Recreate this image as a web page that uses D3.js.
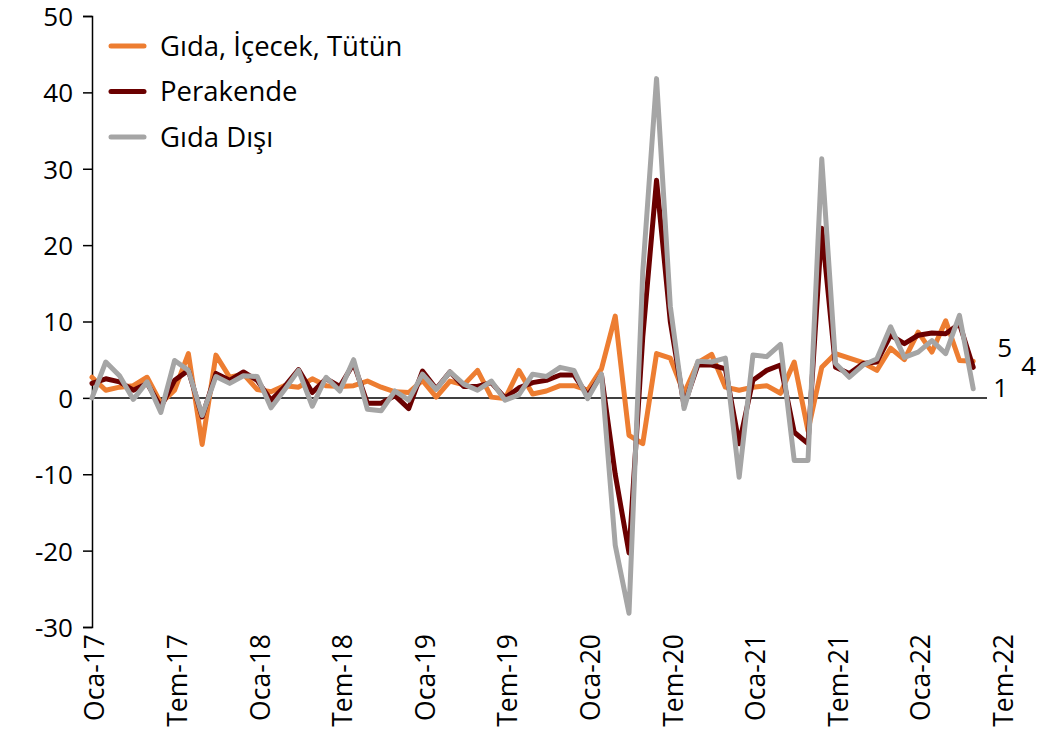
<!DOCTYPE html>
<html><head><meta charset="utf-8">
<script src="https://cdn.jsdelivr.net/npm/d3@7"></script>
<style>body{margin:0;background:#fff}svg{display:block}text{font-family:"Open Sans",sans-serif;fill:#000}</style>
</head><body><svg id="c" width="1064" height="738"></svg>
<script>
const startYear = 2017;
const nMonths = 65; // Oca-17 .. May-22
const tickLabels = ["Oca-17","Tem-17","Oca-18","Tem-18","Oca-19","Tem-19","Oca-20","Tem-20","Oca-21","Tem-21","Oca-22","Tem-22"];
const yTicks = [-30,-20,-10,0,10,20,30,40,50];
const seriesNames = ["Gıda, İçecek, Tütün","Perakende","Gıda Dışı"];
const seriesColors = ["#ED7D31","#6B0000","#A5A5A5"];
const gida = [2.7,1.0,1.4,1.6,2.7,-0.7,1.0,5.8,-6.1,5.6,2.7,3.1,1.1,0.8,1.6,1.4,2.5,1.6,1.5,1.6,2.2,1.4,0.8,0.7,2.3,0.1,2.2,1.7,3.6,0.1,-0.1,3.6,0.5,0.9,1.6,1.6,1.0,3.8,10.7,-4.9,-6.0,5.8,5.2,0.6,4.6,5.7,1.4,1.0,1.4,1.6,0.6,4.7,-4.3,4.0,5.8,5.2,4.6,3.6,6.5,5.0,8.6,6.0,10.1,4.9,4.8];
const perakende = [1.9,2.5,2.1,1.0,1.9,-1.2,2.3,3.6,-2.5,3.2,2.3,3.4,2.3,-0.3,1.5,3.7,0.7,2.5,1.5,4.5,-0.7,-0.7,0.3,-1.4,3.5,1.2,3.4,1.5,1.5,2.0,0.0,1.3,2.0,2.3,3.0,3.0,0.3,3.0,-10.0,-20.3,8.0,28.5,10.0,-1.0,4.3,4.3,3.8,-6.0,2.3,3.6,4.3,-4.5,-6.0,22.2,4.0,3.2,4.5,4.7,8.2,7.1,8.2,8.5,8.4,9.7,4.0];
const gidaDisi = [0.0,4.7,2.9,-0.2,2.1,-1.9,4.9,3.6,-2.3,2.8,1.9,2.9,2.8,-1.3,1.1,3.6,-1.1,2.7,0.9,5.0,-1.5,-1.7,0.9,-0.3,3.1,1.1,3.4,1.8,1.0,2.2,-0.3,0.4,3.1,2.8,4.0,3.6,-0.1,3.1,-19.3,-28.2,16.5,41.8,12.0,-1.4,4.8,4.7,5.2,-10.4,5.6,5.4,7.0,-8.2,-8.2,31.3,4.5,2.7,4.3,5.1,9.3,5.3,6.0,7.5,5.8,10.8,1.2];

const series = [gida, perakende, gidaDisi];
const svg = d3.select("#c");
const x = d3.scaleLinear().domain([0, 65]).range([92, 987]);
const y = d3.scaleLinear().domain([-30, 50]).range([627, 16]);

// y axis
const yAxis = d3.axisLeft(y).tickValues(yTicks).tickSize(9).tickPadding(10).tickFormat(d => String(d));
const gy = svg.append("g").attr("transform", `translate(${x(0)},0)`).call(yAxis);
gy.select(".domain").attr("stroke", "#000").attr("stroke-width", 1.5);
gy.selectAll(".tick line").attr("stroke", "#000").attr("stroke-width", 1.5);
gy.selectAll(".tick text").attr("font-size", 26).attr("font-family", "Open Sans").attr("fill", "#000").attr("dy", "0.36em");

// zero line
svg.append("line").attr("x1", x(0)).attr("x2", x(65)).attr("y1", y(0)).attr("y2", y(0))
  .attr("stroke", "#000").attr("stroke-width", 1.5);

// x labels
svg.append("g").selectAll("text").data(tickLabels).join("text")
  .attr("transform", (d, i) => `translate(${x(i * 6) + 3},634) rotate(-90)`)
  .attr("text-anchor", "end").attr("dy", "0.35em")
  .attr("font-size", 26.5).text(d => d);

// lines
const line = d3.line().x((d, i) => x(i)).y(d => y(d));
series.forEach((s, k) => {
  svg.append("path").datum(s).attr("d", line).attr("fill", "none")
    .attr("stroke", seriesColors[k]).attr("stroke-width", 5)
    .attr("stroke-linejoin", "round").attr("stroke-linecap", "round");
});

// legend
seriesNames.forEach((n, k) => {
  const gy0 = 46 + k * 45.5;
  svg.append("line").attr("x1", 111).attr("x2", 144).attr("y1", gy0).attr("y2", gy0)
    .attr("stroke", seriesColors[k]).attr("stroke-width", 5).attr("stroke-linecap", "round");
  svg.append("text").attr("x", 160).attr("y", gy0).attr("dy", "0.35em")
    .attr("font-size", 27.5).text(n);
});

// end labels
const last = nMonths - 1;
const endOffsets = [[24, -4], [48, 8], [20, 8]];
series.forEach((s, k) => {
  svg.append("text").attr("x", x(last) + endOffsets[k][0]).attr("y", y(s[last]) + endOffsets[k][1])
    .attr("font-size", 26).text(Math.round(s[last]));
});
</script></body></html>
